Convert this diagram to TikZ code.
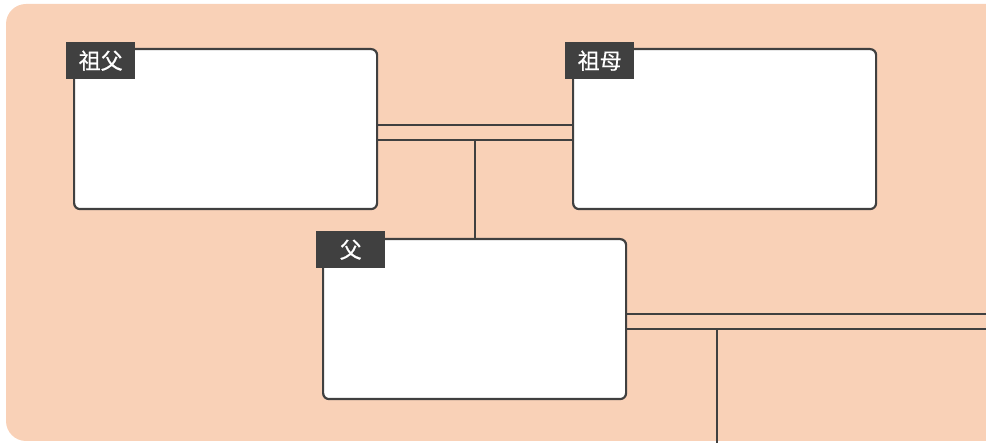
\documentclass[tikz,border=0pt]{standalone}
\usepackage{fontspec}
\newfontfamily\cjk[FakeBold=0.6]{Noto Sans CJK SC}
\definecolor{bgpeach}{HTML}{F9D1B7}
\definecolor{ink}{HTML}{404040}
\begin{document}
\begin{tikzpicture}[x=1pt,y=-1pt,
  person/.style={draw=ink,line width=2.2pt,fill=white,rounded corners=6pt,
    minimum width=303pt,minimum height=160pt,inner sep=0pt,anchor=north west},
  tag/.style={fill=ink,text=white,font=\cjk\fontsize{22}{26}\selectfont,
    minimum width=69pt,minimum height=37pt,inner sep=0pt,anchor=north west},
  link/.style={draw=ink,line width=1.6pt}]
\useasboundingbox (0,0) rectangle (986,443);
\fill[bgpeach,rounded corners=20pt] (6,4) rectangle (1020,441);
\node[person] (gf) at (73,48) {};
\node[person] (gm) at (572,48) {};
\node[person] (pa) at (322,238) {};
\node[tag] (gft) at (66,42) {祖父};
\node[tag] (gmt) at (565,42) {祖母};
\node[tag] (pat) at (316,231) {父};
\coordinate (j1) at (475,140);
\coordinate (r1) at (986,314);
\coordinate (r2) at (986,329);
\coordinate (j2) at (717,329);
\coordinate (bot) at (717,443);
\draw[link] (gf.east |- {(0,125)}) -- (gm.west |- {(0,125)});
\draw[link] (gf.east |- j1) -- (gm.west |- j1);
\draw[link] (j1) -- (j1 |- pa.north);
\draw[link] (pa.east |- r1) -- (r1);
\draw[link] (pa.east |- r2) -- (r2);
\draw[link] (j2) -- (bot);
\end{tikzpicture}
\end{document}
